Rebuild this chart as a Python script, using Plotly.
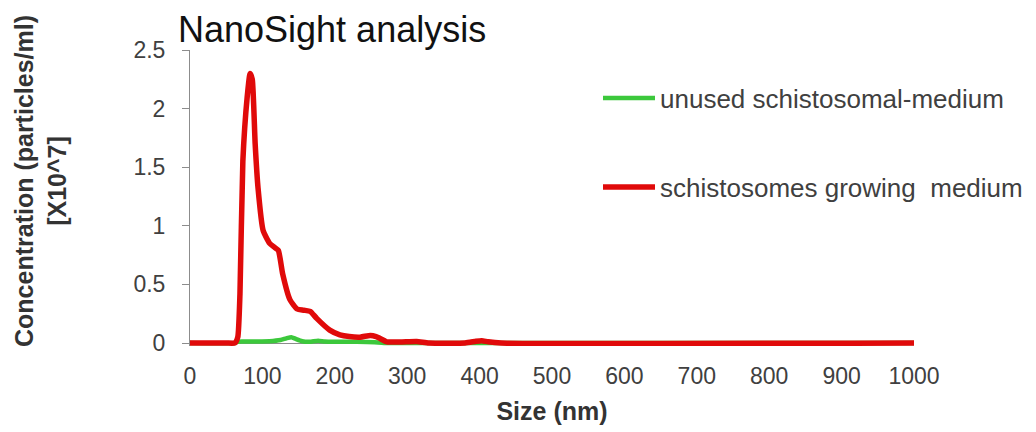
import plotly.graph_objects as go

# ---- data ----
red_name = "schistosomes growing  medium"
red_size = [0, 50, 62, 66, 69, 73, 79, 83, 86, 90, 94, 101, 110, 116, 122, 128, 138,
            148, 157, 166, 175, 193, 207, 220, 235, 249, 257, 262, 272, 290, 313, 330,
            380, 395, 403, 412, 430, 1000]
red_conc = [0, 0, 0, 0.05, 0.42, 1.55, 2.1, 2.30, 2.25, 1.7, 1.32, 0.96, 0.85, 0.82,
            0.79, 0.59, 0.37, 0.29, 0.28, 0.27, 0.21, 0.11, 0.07, 0.055, 0.05, 0.065,
            0.055, 0.04, 0.01, 0.008, 0.012, 0, 0, 0.015, 0.02, 0.01, 0, 0]

green_name = "unused schistosomal-medium"
green_size = [0, 62, 66, 72, 90, 110, 125, 133, 140, 146, 155, 165, 177, 186, 200,
              230, 255, 268, 1000]
green_conc = [0, 0, 0.01, 0.012, 0.013, 0.015, 0.025, 0.04, 0.05, 0.035, 0.015, 0.01,
              0.02, 0.012, 0.01, 0.01, 0.006, 0, 0]

FONT = "Liberation Sans, Arial, sans-serif"
W, H = 1036, 432
L, R, T, B = 190, 122, 50, 86
PW, PH = W - L - R, H - T - B

fig = go.Figure()
fig.add_trace(go.Scatter(
    x=green_size, y=green_conc, mode="lines", name=green_name,
    line=dict(color="#3cc83c", width=4.5, shape="spline", smoothing=0.5),
    legend="legend"))
fig.add_trace(go.Scatter(
    x=red_size, y=red_conc, mode="lines", name=red_name,
    line=dict(color="#e00a0a", width=5.5, shape="spline", smoothing=0.5),
    legend="legend2"))

fig.update_layout(
    width=W, height=H,
    margin=dict(l=L, r=R, t=T, b=B, pad=0, autoexpand=False),
    paper_bgcolor="white", plot_bgcolor="white",
    font=dict(family=FONT, color="#404040"),
    title=dict(text="NanoSight analysis", x=178 / W, xanchor="left",
               y=1 - 29 / H, yanchor="middle",
               font=dict(size=36, color="#111111", family=FONT)),
    legend=dict(x=(598 - L) / PW, y=(346 - 98) / PH, xanchor="left", yanchor="middle",
                font=dict(size=26, color="#404040", family=FONT),
                bgcolor="rgba(0,0,0,0)", itemwidth=52),
    legend2=dict(x=(598 - L) / PW, y=(346 - 187) / PH, xanchor="left", yanchor="middle",
                 font=dict(size=26, color="#404040", family=FONT),
                 bgcolor="rgba(0,0,0,0)", itemwidth=52),
    showlegend=True,
)

fig.update_xaxes(
    range=[0, 1000], dtick=100, tick0=0, showgrid=False, zeroline=False,
    showline=False, ticks="", ticklabelstandoff=14,
    tickfont=dict(size=23, color="#404040", family=FONT),
    title=dict(text="Size (nm)", standoff=14,
               font=dict(size=25, color="#333333", family=FONT, weight="bold")),
)
fig.update_yaxes(
    range=[-0.0256, 2.5], dtick=0.5, tick0=0, showgrid=False,
    zeroline=True, zerolinecolor="#8c8c8c", zerolinewidth=1,
    showline=True, linecolor="#8c8c8c", linewidth=1,
    ticks="outside", ticklen=7, tickcolor="#8c8c8c", ticklabelstandoff=12,
    tickfont=dict(size=23, color="#404040", family=FONT),
)

fig.add_annotation(
    text="Concentration (particles/ml)<br>[X10^7]",
    xref="paper", yref="paper", x=0, xshift=40 - L, y=(346 - 181) / PH,
    xanchor="center", yanchor="middle", textangle=-90, showarrow=False,
    font=dict(size=25, color="#333333", family=FONT, weight="bold"))

fig.write_html("out.html")
